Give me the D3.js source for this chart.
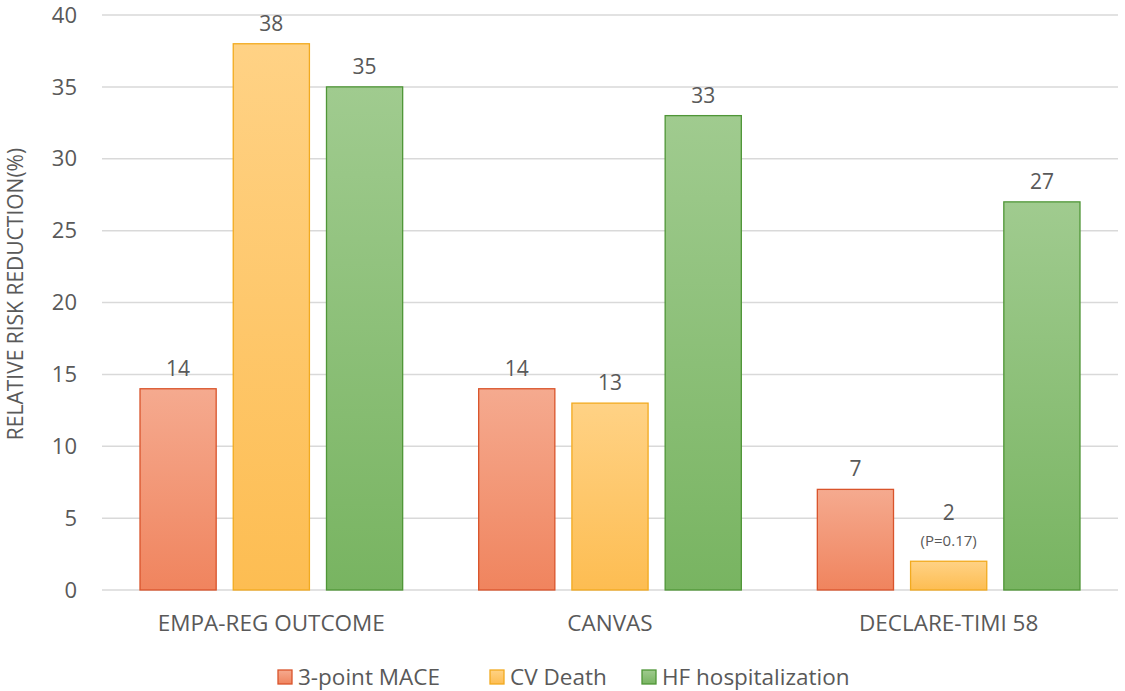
<!DOCTYPE html>
<html>
<head>
<meta charset="utf-8">
<script src="https://cdn.jsdelivr.net/npm/d3@7"></script>
<style>
  body { margin: 0; background: #fff; }
  text { font-family: "Open Sans", "Liberation Sans", sans-serif; fill: #595959; }
</style>
</head>
<body>
<svg id="chart" width="1125" height="691"></svg>
<script>
// data
var trials = ["EMPA-REG OUTCOME", "CANVAS", "DECLARE-TIMI 58"];
var seriesNames = ["3-point MACE", "CV Death", "HF hospitalization"];
var mace = [14, 14, 7];
var cvDeath = [38, 13, 2];
var hfHosp = [35, 33, 27];
var yTicks = [0, 5, 10, 15, 20, 25, 30, 35, 40];
var notes = {"DECLARE-TIMI 58|CV Death": "(P=0.17)"};

var colors = [
  {top: "#f5aa8f", bottom: "#f0845e", stroke: "#d9542b"},
  {top: "#ffd285", bottom: "#fdbd52", stroke: "#f2aa1f"},
  {top: "#a0cb8f", bottom: "#78b461", stroke: "#4f9637"}
];

var svg = d3.select("#chart");
var plotL = 102, plotR = 1118, plotT = 15, plotB = 590;

var x0 = d3.scaleBand().domain(trials).range([plotL, plotR]).paddingInner(0).paddingOuter(0);
var x1 = d3.scaleBand().domain(seriesNames).range([38, x0.bandwidth() - 38]).paddingInner(0.183).paddingOuter(0);
var y = d3.scaleLinear().domain([0, 40]).range([plotB, plotT]);

// gradients
var defs = svg.append("defs");
colors.forEach(function(c, i) {
  var g = defs.append("linearGradient").attr("id", "g" + i).attr("x1", 0).attr("y1", 0).attr("x2", 0).attr("y2", 1);
  g.append("stop").attr("offset", "0%").attr("stop-color", c.top);
  g.append("stop").attr("offset", "100%").attr("stop-color", c.bottom);
});

// gridlines
svg.append("g").selectAll("line").data(yTicks).enter().append("line")
  .attr("x1", plotL).attr("x2", plotR)
  .attr("y1", function(d) { return y(d); }).attr("y2", function(d) { return y(d); })
  .attr("stroke", "#d9d9d9").attr("stroke-width", 1.5);

// y tick labels
svg.append("g").selectAll("text").data(yTicks).enter().append("text")
  .attr("x", 77).attr("y", function(d) { return y(d); }).attr("dy", "0.35em")
  .attr("text-anchor", "end").style("font-size", "22px")
  .text(function(d) { return d; });

// y axis title
svg.append("text")
  .attr("transform", "translate(23,294) rotate(-90)")
  .attr("text-anchor", "middle").style("font-size", "21px")
  .text("RELATIVE RISK REDUCTION(%)");

var rows = [];
trials.forEach(function(t, i) {
  [mace, cvDeath, hfHosp].forEach(function(arr, j) {
    rows.push({trial: t, series: seriesNames[j], si: j, value: arr[i]});
  });
});

var groups = svg.append("g");
groups.selectAll("rect").data(rows).enter().append("rect")
  .attr("x", function(d) { return x0(d.trial) + x1(d.series); })
  .attr("width", x1.bandwidth())
  .attr("y", function(d) { return y(d.value); })
  .attr("height", function(d) { return y(0) - y(d.value); })
  .attr("fill", function(d) { return "url(#g" + d.si + ")"; })
  .attr("stroke", function(d) { return colors[d.si].stroke; })
  .attr("stroke-width", 1.3);

// data labels
groups.selectAll("text.val").data(rows).enter().append("text")
  .attr("class", "val")
  .attr("x", function(d) { return x0(d.trial) + x1(d.series) + x1.bandwidth() / 2; })
  .attr("y", function(d) {
    var off = notes[d.trial + "|" + d.series] ? 41 : 13;
    return y(d.value) - off;
  })
  .attr("text-anchor", "middle").style("font-size", "21px")
  .text(function(d) { return d.value; });

groups.selectAll("text.note").data(rows.filter(function(d) { return notes[d.trial + "|" + d.series]; })).enter().append("text")
  .attr("class", "note")
  .attr("x", function(d) { return x0(d.trial) + x1(d.series) + x1.bandwidth() / 2; })
  .attr("y", function(d) { return y(d.value) - 15; })
  .attr("text-anchor", "middle").style("font-size", "15px")
  .text(function(d) { return notes[d.trial + "|" + d.series]; });

// category labels
svg.append("g").selectAll("text").data(trials).enter().append("text")
  .attr("x", function(d) { return x0(d) + x0.bandwidth() / 2; })
  .attr("y", 631).attr("text-anchor", "middle").style("font-size", "22.5px")
  .text(function(d) { return d; });

// legend
var legendX = [278, 490, 642];
var leg = svg.append("g").selectAll("g").data(seriesNames).enter().append("g")
  .attr("transform", function(d, i) { return "translate(" + legendX[i] + ",670)"; });
leg.append("rect").attr("width", 14).attr("height", 14)
  .attr("fill", function(d, i) { return "url(#g" + i + ")"; })
  .attr("stroke", function(d, i) { return colors[i].stroke; }).attr("stroke-width", 1.3);
leg.append("text").attr("x", 20).attr("y", 7).attr("dy", "0.35em").style("font-size", "22.5px")
  .text(function(d) { return d; });
</script>
</body>
</html>
